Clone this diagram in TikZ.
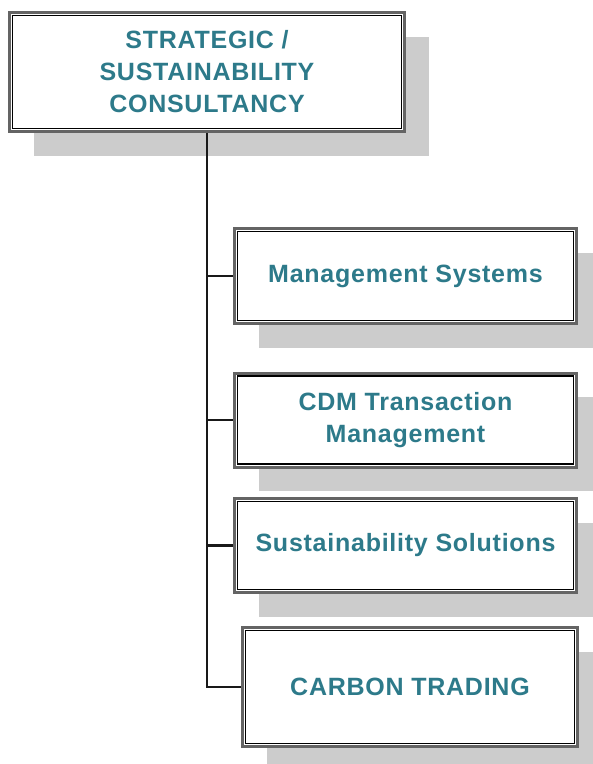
\documentclass[tikz,border=0pt]{standalone}
\usepackage{fontspec}
\usepackage{tikz}
\usetikzlibrary{shadows}
\newfontfamily\chartfont{Liberation Sans}[LetterSpace=3]
\definecolor{tealtext}{RGB}{45,122,138}
\definecolor{framegray}{RGB}{100,100,100}
\definecolor{shadegray}{RGB}{204,204,204}

\tikzset{
  orgbox/.style={draw=framegray, line width=3pt, fill=white, align=center,
    text=tealtext, font=\chartfont\bfseries\fontsize{25}{32}\selectfont,
    drop shadow={shadow xshift=24pt, shadow yshift=-24pt, opacity=1, fill=shadegray}},
  innerframe/.style={draw=black, line width=1.5pt},
  link/.style={draw=black!90, line width=2.4pt}
}

\begin{document}
\begin{tikzpicture}[x=1pt, y=-1pt]
\useasboundingbox (0,0) rectangle (593,764);

\node[orgbox, minimum width=395pt, minimum height=119pt] (top) at (207,72) {STRATEGIC /\\SUSTAINABILITY\\CONSULTANCY};
\node[orgbox, minimum width=342pt, minimum height=95pt] (ms) at (405.5,276) {Management Systems};
\node[orgbox, minimum width=342pt, minimum height=94pt] (cdm) at (405.5,420) {CDM Transaction\\Management};
\node[orgbox, minimum width=342pt, minimum height=94pt] (ss) at (405.5,545.5) {Sustainability Solutions};
\node[orgbox, minimum width=335pt, minimum height=119pt] (ct) at (410,687) {CARBON TRADING};

\foreach \n in {top,ms,cdm,ss,ct}
  \draw[innerframe] ([shift={(4.5pt,-4.5pt)}]\n.north west) rectangle ([shift={(-4.5pt,4.5pt)}]\n.south east);

\foreach \n in {ms,cdm,ss,ct}
  \draw[link] (top.south) |- (\n.west);

\end{tikzpicture}
\end{document}
